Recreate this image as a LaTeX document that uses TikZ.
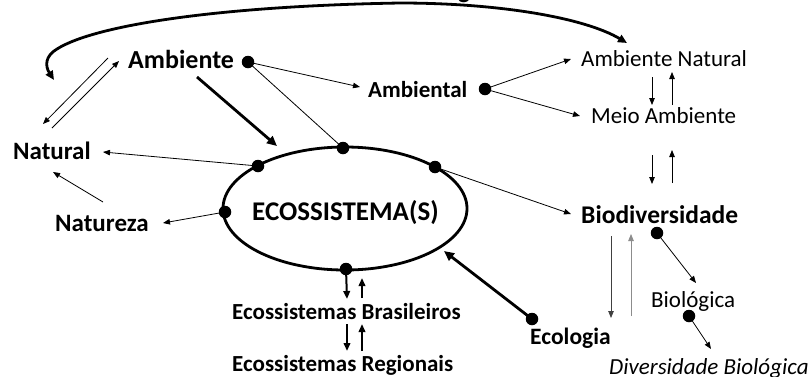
\documentclass[tikz,border=0pt]{standalone}
\usepackage{fontspec}
\setmainfont{Carlito}
\usetikzlibrary{arrows.meta}
\begin{document}
\begin{tikzpicture}[x=1pt,y=-1pt,
  lbl/.style={inner sep=0pt,anchor=base west,font=\bfseries\fontsize{25}{29}\selectfont},
  reg/.style={inner sep=0pt,anchor=base west,font=\fontsize{23}{27}\selectfont},
  itl/.style={inner sep=0pt,anchor=base west,font=\itshape\fontsize{23}{27}\selectfont},
  fs/.style={font=\bfseries\fontsize{#1}{#1}\selectfont},
  dot/.style={circle,fill=black,inner sep=0pt,minimum size=12.5pt},
  ta/.style={line width=0.8pt,-{Triangle[length=7pt,width=5.5pt]}},
  tl/.style={line width=0.8pt},
  tk/.style={line width=2.8pt,-{Triangle[length=10pt,width=9pt]}},
  md/.style={line width=2pt,-{Triangle[length=8pt,width=6.5pt]}},
  arc/.style={line width=2.8pt,{Triangle[length=9pt,width=8pt]}-{Triangle[length=9pt,width=8pt]}}]
\useasboundingbox (0,0) rectangle (808,376);
\fill[white] (0,0) rectangle (808,376);

% fragment of a label above the picture
\node[lbl] (topg) at (458,-2) {g};

% labels
\node[lbl,fs=26] (amb) at (128,68) {Ambiente};
\node[lbl,fs=23] (ambl) at (368,97) {Ambiental};
\node[reg] (ambnat) at (581,66) {Ambiente Natural};
\node[reg] (meio) at (591,123) {Meio Ambiente};
\node[lbl,fs=25] (nat) at (13,159) {Natural};
\node[lbl,fs=25] (natz) at (55,231) {Natureza};
\node[lbl,fs=27] (eco) at (252,220) {ECOSSISTEMA(S)};
\node[lbl,fs=25.5] (bio) at (581,223) {Biodiversidade};
\node[reg] (biol) at (651,307) {Biológica};
\node[lbl,fs=23.5] (ecol) at (530,344) {Ecologia};
\node[itl] (divb) at (609,374) {Diversidade Biológica};
\node[lbl,fs=23] (ebr) at (232,319) {Ecossistemas Brasileiros};
\node[lbl,fs=23] (ereg) at (232,371) {Ecossistemas Regionais};

% ellipse
\draw[line width=2.8pt] (345,208.5) ellipse [x radius=122, y radius=61.5];

% dots
\node[dot] (dAmb) at (248,62) {};
\node[dot] (dAmbl) at (485,89) {};
\node[dot] (dTop) at (343,148) {};
\node[dot] (dUL) at (258,166) {};
\node[dot] (dUR) at (435,167) {};
\node[dot] (dL) at (225,212) {};
\node[dot] (dB) at (346,269) {};
\node[dot] (dBio) at (657,233) {};
\node[dot] (dBiol) at (689,316) {};
\node[dot] (dEcol) at (532,319) {};

% coordinates for free ends
\coordinate (tAmbl) at (360,87);
\coordinate (tk1s) at (197,77);
\coordinate (tk1e) at (277,146);
\coordinate (na1s) at (108,58);
\coordinate (na1e) at (43,124);
\coordinate (na2s) at (52,128);
\coordinate (na2e) at (119,61);
\coordinate (tNat) at (103,152);
\coordinate (nz1s) at (103,202);
\coordinate (nz1e) at (53,172);
\coordinate (tNatz) at (163,223);
\coordinate (tBio) at (571,214);
\coordinate (tAN) at (571,59);
\coordinate (tMeio) at (580,116);
\coordinate (tBiol) at (696,283);
\coordinate (tDivb) at (711,349);
\coordinate (tEll) at (444,251);

\draw[ta] (dAmb.center) -- (tAmbl);
\draw[tl] (dAmb.center) -- (dTop.center);
\draw[tk] (tk1s) -- (tk1e);
\draw[ta] (na1s) -- (na1e);
\draw[ta] (na2s) -- (na2e);
\draw[ta] (dUL.center) -- (tNat);
\draw[ta] (nz1s) -- (nz1e);
\draw[ta] (dL.center) -- (tNatz);
\draw[ta] (dUR.center) -- (tBio);
\draw[ta] (dAmbl.center) -- (tAN);
\draw[ta] (dAmbl.center) -- (tMeio);
\draw[ta] (dBio.center) -- (tBiol);
\draw[ta] (dBiol.center) -- (tDivb);
\draw[tk] (dEcol.center) -- (tEll);

% vertical pairs
\draw[ta] (652,77) -- (652,105);
\draw[ta] (672,105) -- (672,72);
\draw[ta] (652,155) -- (652,184);
\draw[ta] (672,183) -- (672,150);
\draw[ta,draw=black!75,fill=black!75] (611,236) -- (611,318);
\draw[ta,draw=black!45] (631,316) -- (631,234);
\draw[md] (dB.center) -- (347,299);
\draw[md] (362,298) -- (362,278);
\draw[md] (347,324) -- (347,351);
\draw[md] (362,351) -- (362,324);

% big arc
\draw[arc] (54,80) .. controls (45,66) and (45,56) .. (57,49)
  .. controls (95,25) and (220,6) .. (400,3)
  .. controls (500,3) and (585,18) .. (627,43);
\end{tikzpicture}
\end{document}
